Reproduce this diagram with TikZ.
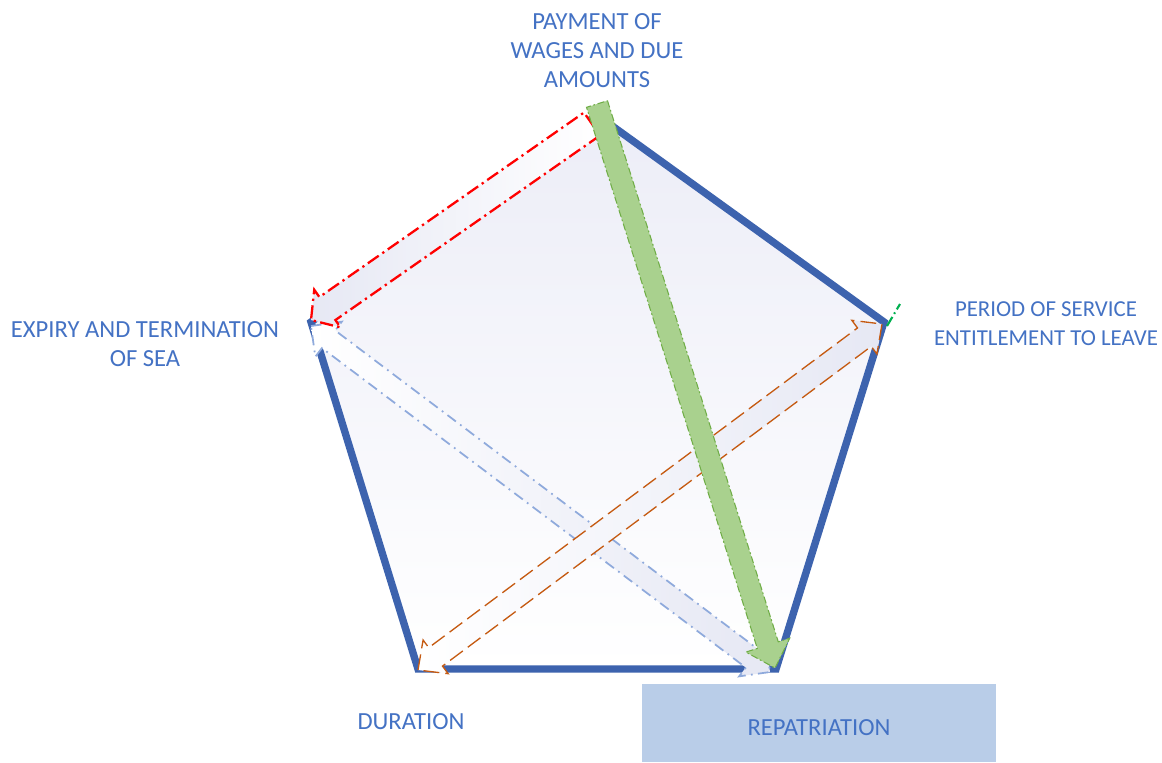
\documentclass[tikz,border=0pt]{standalone}
\usepackage{fontspec}
\setmainfont{Carlito}
\usepackage{tikz}
\usetikzlibrary{calc,positioning}
\definecolor{edgeblue}{RGB}{61,99,174}
\definecolor{lbltext}{RGB}{68,114,196}
\definecolor{softfill}{RGB}{230,232,244}
\definecolor{penfill}{RGB}{236,237,247}
\definecolor{leafgreen}{RGB}{169,209,142}
\definecolor{leafedge}{RGB}{112,173,71}
\definecolor{rustline}{RGB}{197,90,17}
\definecolor{paleblue}{RGB}{143,170,220}
\definecolor{boxblue}{RGB}{185,205,232}
\definecolor{markgreen}{RGB}{0,176,80}
% block arrow with one head: style, tail, tip, half shaft, half head, head length (px)
\newcommand{\onearrow}[6]{%
\coordinate (hb) at ($(#3)!#6*0.569pt!(#2)$);
\path[#1] ($(#2)!#4*0.569pt!90:(#3)$) -- ($(hb)!#4*0.569pt!90:(#3)$)
 -- ($(hb)!#5*0.569pt!90:(#3)$) -- (#3) -- ($(hb)!#5*0.569pt!-90:(#3)$)
 -- ($(hb)!#4*0.569pt!-90:(#3)$) -- ($(#2)!#4*0.569pt!-90:(#3)$) -- cycle;}
% block arrow with two heads
\newcommand{\twoarrow}[6]{%
\coordinate (ha) at ($(#2)!#6*0.569pt!(#3)$);
\coordinate (hb) at ($(#3)!#6*0.569pt!(#2)$);
\path[#1] (#2) -- ($(ha)!#5*0.569pt!90:(#3)$) -- ($(ha)!#4*0.569pt!90:(#3)$)
 -- ($(hb)!#4*0.569pt!-90:(#2)$) -- ($(hb)!#5*0.569pt!-90:(#2)$) -- (#3)
 -- ($(hb)!#5*0.569pt!90:(#2)$) -- ($(hb)!#4*0.569pt!90:(#2)$)
 -- ($(ha)!#4*0.569pt!-90:(#3)$) -- ($(ha)!#5*0.569pt!-90:(#3)$) -- cycle;}
\tikzset{
lbl/.style={text=lbltext,align=center,font=\fontsize{14}{16.5}\selectfont},
redarrow/.style={draw=red,line width=1.3pt,dash pattern=on 7.5pt off 2.5pt on 1.3pt off 2.5pt,left color=softfill,right color=white},
bluearrow/.style={draw=paleblue,line width=1pt,dash pattern=on 6pt off 3pt on 1pt off 3pt,left color=white,right color=softfill},
rustarrow/.style={draw=rustline,line width=0.75pt,dash pattern=on 9pt off 3.5pt,left color=white,right color=softfill},
leafarrow/.style={draw=leafedge,line width=0.6pt,dash pattern=on 4pt off 1.5pt on 1pt off 1.5pt,fill=leafgreen}
}
\begin{document}
\begin{tikzpicture}[x=0.02cm,y=-0.02cm]
\useasboundingbox[fill=white] (0,0) rectangle (1162,762);
\coordinate (top) at (597,115);
\coordinate (right) at (884,322);
\coordinate (botr) at (776,669);
\coordinate (botl) at (418,669);
\coordinate (left) at (311,322);
\path[top color=penfill,bottom color=white] (top) -- (right) -- (botr) -- (botl) -- (left) -- cycle;
\draw[edgeblue,line width=4.2pt,line join=miter] (top) -- (right) -- (botr) -- (botl) -- (left) -- cycle;

\fill[boxblue] (642,684) rectangle (996,762);
\node[lbl] (pay) at (597,51) {PAYMENT OF\\WAGES AND DUE\\AMOUNTS};
\node[lbl,font=\fontsize{13}{16.5}\selectfont] (serv) at (1046,324) {PERIOD OF SERVICE\\ENTITLEMENT TO LEAVE};
\node[lbl] (exp) at (145,344) {EXPIRY AND TERMINATION\\OF SEA};
\node[lbl] (dur) at (411,722) {DURATION};
\node[lbl] (rep) at (819,728) {REPATRIATION};

\coordinate (bl1) at (311,326);
\coordinate (bl2) at (770,672);
\coordinate (ru1) at (418,670);
\coordinate (ru2) at (882,324);
\coordinate (rd1) at (592,124);
\coordinate (rd2) at (311,320);
\coordinate (gr1) at (597,104);
\coordinate (gr2) at (775,668);
\twoarrow{bluearrow}{bl1}{bl2}{11}{22}{22}
\twoarrow{rustarrow}{ru1}{ru2}{11.5}{21}{22}
\onearrow{redarrow}{rd1}{rd2}{14}{23}{20}
\onearrow{leafarrow}{gr1}{gr2}{11}{23}{24}
\coordinate (gm1) at (887,326);
\coordinate (gm2) at (900,304);
\draw[markgreen,line width=1.2pt,dash pattern=on 6pt off 2pt on 1pt off 2pt] (gm1) -- (gm2);
\end{tikzpicture}
\end{document}
